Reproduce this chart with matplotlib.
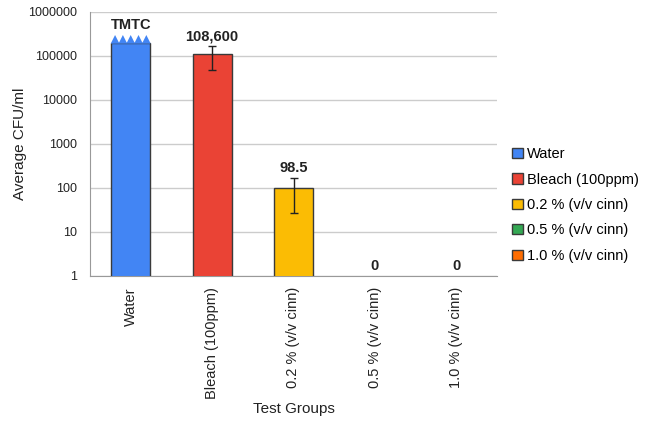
import matplotlib.pyplot as plt
import numpy as np
from matplotlib.patches import Patch, Polygon

plt.rcParams["font.family"] = ["Liberation Sans", "DejaVu Sans"]

groups = ["Water", "Bleach (100ppm)", "0.2 % (v/v cinn)", "0.5 % (v/v cinn)", "1.0 % (v/v cinn)"]
means = [200000, 108600, 98.5, 0, 0]
errors = [0, 60000, 72, 0, 0]
value_labels = ["TMTC", "108,600", "98.5", "0", "0"]
colors = ["#4285F4", "#EA4335", "#FBBC04", "#34A853", "#FF6D01"]
y_ticks = [1, 10, 100, 1000, 10000, 100000, 1000000]

BAR_W = 0.48
EDGE = "#3a3a3a"

fig = plt.figure(figsize=(6.46, 4.21), dpi=100)
ax = fig.add_axes([90 / 646, 1 - 276 / 421, 407 / 646, 264 / 421])

x = np.arange(len(groups))
# zero counts can't sit on a log axis, so only the non-zero bars are drawn
heights = [m if m > 0 else np.nan for m in means]
ax.bar(x, heights, width=BAR_W, color=colors, edgecolor=EDGE, linewidth=1, zorder=3)

yerr = [e if e > 0 else np.nan for e in errors]
ax.errorbar(x, heights, yerr=yerr, fmt="none", ecolor="#222222", elinewidth=1,
            capsize=3, capthick=1, zorder=4)

# too-many-to-count bar gets a jagged top
left = x[0] - BAR_W / 2
n_teeth = 5
step = BAR_W / n_teeth
peak = 1.5
pts = [(left, means[0] * 0.95)]
for k in range(n_teeth):
    pts.append((left + k * step, means[0]))
    pts.append((left + (k + 0.5) * step, means[0] * peak))
pts.append((left + BAR_W, means[0]))
pts.append((left + BAR_W, means[0] * 0.95))
ax.add_patch(Polygon(pts, closed=True, facecolor=colors[0], edgecolor="none", zorder=5))

for i, (m, e, lab) in enumerate(zip(means, errors, value_labels)):
    if i == 0:
        y = m * peak
    elif m > 0:
        y = m + e
    else:
        y = 1
    ax.annotate(lab, (i, y), xytext=(0, 2), textcoords="offset points",
                ha="center", va="bottom", fontsize=10.5, fontweight="bold", color="#222222")

ax.set_yscale("log")
ax.set_ylim(1, 1000000)
ax.set_xlim(-0.5, len(groups) - 0.5)
ax.set_yticks(y_ticks)
ax.set_yticklabels([str(v) for v in y_ticks])
ax.minorticks_off()
ax.yaxis.grid(True, color="#cccccc", linewidth=1, zorder=0)
ax.set_axisbelow(True)

ax.set_xticks(x)
ax.set_xticklabels(groups, rotation=90, fontsize=10.5, color="#222222")
ax.tick_params(axis="x", length=0, pad=8)
ax.tick_params(axis="y", length=0, pad=9, labelsize=9, labelcolor="#222222")

for s in ["top", "right"]:
    ax.spines[s].set_visible(False)
ax.spines["left"].set_color("#999999")
ax.spines["bottom"].set_color("#999999")

ax.set_xlabel("Test Groups", fontsize=11, color="#222222", labelpad=2)
ax.set_ylabel("Average CFU/ml", fontsize=11, color="#222222")
ax.yaxis.set_label_coords(-0.155, 0.5)

handles = [Patch(facecolor=c, edgecolor=EDGE, linewidth=1) for c in colors]
fig.legend(handles, groups, loc="center left", bbox_to_anchor=(0.773, 0.513),
           frameon=False, fontsize=10.5, handlelength=0.7, handleheight=0.7,
           handletextpad=0.3, labelspacing=0.78)

fig.savefig("out.png", dpi=100)
